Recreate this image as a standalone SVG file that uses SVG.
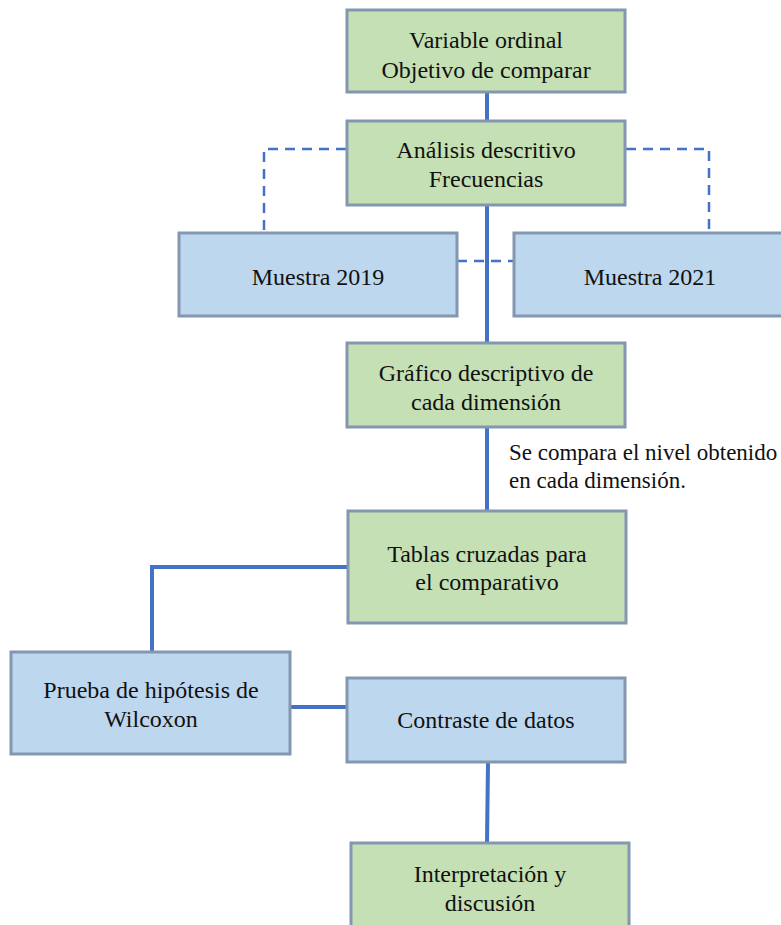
<svg xmlns="http://www.w3.org/2000/svg" width="781" height="925" viewBox="0 0 781 925">
<style>
.g{fill:#C5E0B4;stroke:#8497B0;stroke-width:3}
.b{fill:#BDD7EE;stroke:#8497B0;stroke-width:3}
.t{font-family:"Liberation Serif","Times New Roman",serif;font-size:24px;fill:#111;text-anchor:middle}
.lbl{font-family:"Liberation Serif","Times New Roman",serif;font-size:23px;fill:#111}
.c{fill:none;stroke:#4472C4;stroke-width:4}
.d{fill:none;stroke:#4472C4;stroke-width:2.5;stroke-dasharray:10 7}
</style>
<rect width="781" height="925" fill="#fff"/>
<g id="connectors">
<path class="c" d="M487 92V121"/>
<path class="c" d="M487 205V343"/>
<path class="c" d="M487 427V511"/>
<path class="c" d="M348 567H152V652"/>
<path class="c" d="M290 707H347"/>
<path class="c" d="M488 762L487 843"/>
<path class="d" d="M346 149H264V233"/>
<path class="d" d="M626 149H709V233"/>
<path class="d" d="M457 261H514"/>
</g>
<g id="n1"><rect class="g" x="347" y="10" width="278" height="82"/>
<text class="t" x="486" y="48">Variable ordinal</text><text class="t" x="486" y="78">Objetivo de comparar</text></g>
<g id="n2"><rect class="g" x="347" y="121" width="278" height="84"/>
<text class="t" x="486" y="158">Análisis descritivo</text><text class="t" x="486" y="187">Frecuencias</text></g>
<g id="n3"><rect class="b" x="179" y="233" width="278" height="83"/>
<text class="t" x="318" y="285">Muestra 2019</text></g>
<g id="n4"><rect class="b" x="514" y="233" width="280" height="83"/>
<text class="t" x="650" y="285">Muestra 2021</text></g>
<g id="n5"><rect class="g" x="347" y="343" width="278" height="84"/>
<text class="t" x="486" y="381">Gráfico descriptivo de</text><text class="t" x="486" y="410">cada dimensión</text></g>
<g id="label"><text class="lbl" x="509" y="460">Se compara el nivel obtenido</text><text class="lbl" x="509" y="488">en cada dimensión.</text></g>
<g id="n6"><rect class="g" x="348" y="511" width="278" height="112"/>
<text class="t" x="487" y="562">Tablas cruzadas para</text><text class="t" x="487" y="590">el comparativo</text></g>
<g id="n7"><rect class="b" x="11" y="652" width="279" height="102"/>
<text class="t" x="151" y="698">Prueba de hipótesis de</text><text class="t" x="151" y="727">Wilcoxon</text></g>
<g id="n8"><rect class="b" x="347" y="678" width="278" height="84"/>
<text class="t" x="486" y="728">Contraste de datos</text></g>
<g id="n9"><rect class="g" x="351" y="843" width="278" height="100"/>
<text class="t" x="490" y="882">Interpretación y</text><text class="t" x="490" y="911">discusión</text></g>
</svg>
